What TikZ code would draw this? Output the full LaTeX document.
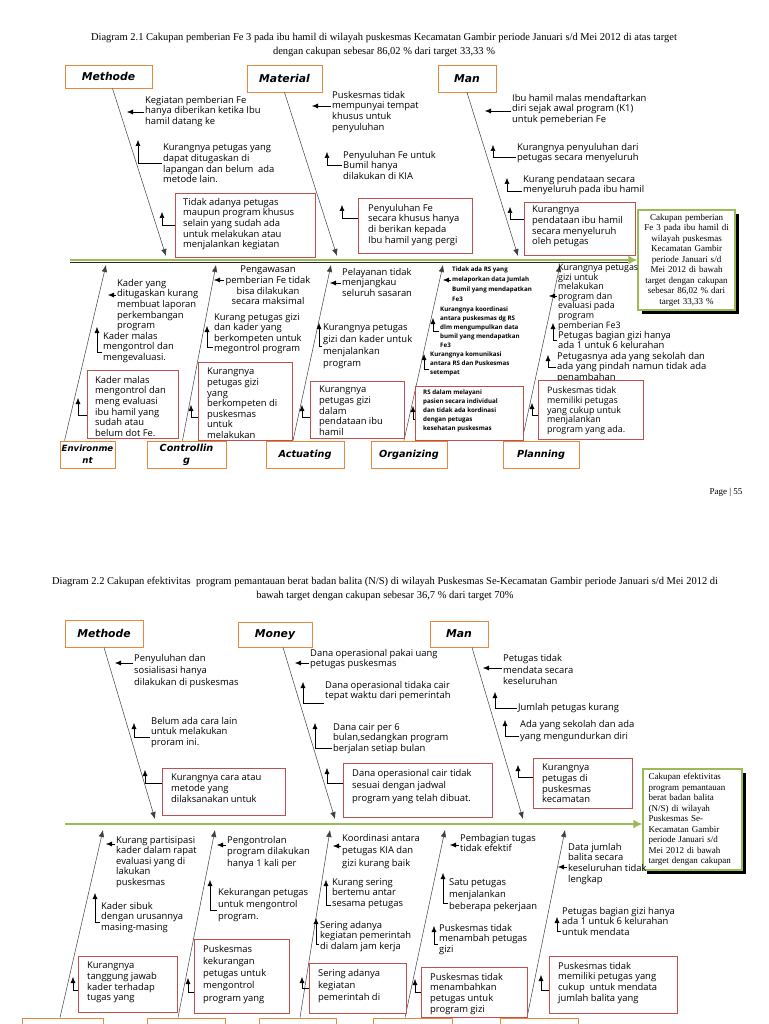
\documentclass[tikz,border=0pt]{standalone}
\usepackage{fontspec}
\setmainfont{Liberation Serif}
\newfontfamily\causefont{Open Sans}
\newfontfamily\catfont{DejaVu Sans}
\usetikzlibrary{arrows.meta,shadows}

\definecolor{catorange}{HTML}{E9873D}
\definecolor{causered}{HTML}{C0504D}
\definecolor{effgreen}{HTML}{9BBB59}

\tikzset{
  catbox/.style={draw=catorange, line width=0.9pt, fill=white, align=center, inner sep=1pt,
    font=\catfont\bfseries\itshape\fontsize{9.7}{12}\selectfont},
  cattop/.style={catbox, font=\catfont\bfseries\itshape\fontsize{10.8}{12}\selectfont},
  causebox/.style={draw=causered, line width=0.7pt, fill=white, anchor=north west, inner sep=0pt},
  ctext/.style={font=\causefont\fontsize{9.4}{10.6}\selectfont, align=left, anchor=north west, inner sep=1pt},
  ctight/.style={ctext, font=\causefont\fontsize{8.9}{9.6}\selectfont},
  csmall/.style={ctext, font=\causefont\bfseries\fontsize{6.2}{8.8}\selectfont},
  bone/.style={draw=black!75, line width=0.5pt, -{Latex[length=7pt,width=5.5pt]}},
  cause/.style={line width=0.5pt, -{Latex[length=6pt,width=5pt]}},
  spineg/.style={draw=effgreen, line width=2.6pt, -{Latex[length=9pt,width=9pt]}},
  effbox/.style={draw=effgreen, line width=1.3pt, fill=white, font=\fontsize{9}{10.5}\selectfont,
    drop shadow={shadow xshift=4pt, shadow yshift=-4pt, fill=black, opacity=1}},
  ttl/.style={font=\fontsize{10.5}{14}\selectfont, align=center},
}

\begin{document}
\begin{tikzpicture}[x=1pt,y=-1pt]
\useasboundingbox (0,0) rectangle (768,1024);
\clip (0,0) rectangle (768,1024);
\fill[white] (0,0) rectangle (768,1024);

\node[ttl] (title1) at (384,45) {Diagram 2.1 Cakupan pemberian Fe 3 pada ibu hamil di wilayah puskesmas Kecamatan Gambir periode Januari s/d Mei 2012 di atas target\\dengan cakupan sebesar 86,02 \% dari target 33,33 \%};
\node[font=\fontsize{9}{11}\selectfont, anchor=east] (page) at (746,492) {Page | 55};
\node[ttl] (title2) at (385,589) {Diagram 2.2 Cakupan efektivitas\ \ program pemantauan berat badan balita (N/S) di wilayah Puskesmas Se-Kecamatan Gambir periode Januari s/d Mei 2012 di\\bawah target dengan cakupan sebesar 36,7 \% dari target 70\%};

\node[effbox, minimum width=97pt, minimum height=100pt, text width=90pt, align=center] (eff1) at (686.5,260) {Cakupan pemberian\\Fe 3 pada ibu hamil di\\wilayah puskesmas\\Kecamatan Gambir\\periode Januari s/d\\Mei 2012 di bawah\\target dengan cakupan\\sebesar 86,02 \% dari\\target 33,33 \%};
\node[effbox, minimum width=99pt, minimum height=101pt, text width=88pt, align=left] (eff2) at (692.5,819.5) {Cakupan efektivitas\\program pemantauan\\berat badan balita\\(N/S) di wilayah\\Puskesmas Se-\\Kecamatan Gambir\\periode Januari s/d\\Mei 2012 di bawah\\target dengan cakupan};

\coordinate (sp1) at (70,260);
\coordinate (sp1e) at (sp1 -| eff1.west);
\draw[black!85, line width=1.4pt] ([yshift=-2.2pt]sp1) -- ([yshift=-2.2pt,xshift=-9pt]sp1e);
\draw[spineg] (sp1) -- (sp1e);
\coordinate (sp2) at (65,824);
\coordinate (sp2e) at (sp2 -| eff2.west);
\draw[spineg] (sp2) -- (sp2e);

\node[cattop, minimum width=87pt, minimum height=23pt] (mth) at (108.5,76.5) {Methode};
\node[cattop, minimum width=75pt, minimum height=27pt] (mat) at (284.5,78.5) {Material};
\node[cattop, minimum width=58pt, minimum height=27pt] (man) at (467,78.5) {Man};
\node[catbox, minimum width=55pt, minimum height=27pt, font=\catfont\bfseries\itshape\fontsize{8.6}{12}\selectfont] (env) at (87.5,454.5) {Environme\\nt};
\node[catbox, minimum width=79pt, minimum height=27pt] (ctl) at (186.5,454.5) {Controllin\\g};
\node[catbox, minimum width=78pt, minimum height=27pt] (act) at (305,454.5) {Actuating};
\node[catbox, minimum width=76pt, minimum height=27pt] (org) at (409,454.5) {Organizing};
\node[catbox, minimum width=76pt, minimum height=27pt] (pln) at (541,454.5) {Planning};

\coordinate (mthx) at (166,256);
\coordinate (matx) at (337,256);
\coordinate (manx) at (518,256);
\coordinate (envx) at (106,265);
\coordinate (ctlx) at (216,265);
\coordinate (actx) at (331,265);
\coordinate (orgx) at (443,265);
\coordinate (plnx) at (560,265);
\draw[bone] ([xshift=4pt]mth.south) -- (mthx);
\draw[bone] (mat.south) -- (matx);
\draw[bone] (man.south) -- (manx);
\draw[bone] ([xshift=5pt]env.north west) -- (envx);
\draw[bone] ([xshift=-4pt]ctl.north) -- (ctlx);
\draw[bone] ([xshift=-12pt]act.north) -- (actx);
\draw[bone] ([xshift=-5pt]org.north) -- (orgx);
\draw[bone] ([xshift=-19pt]pln.north) -- (plnx);

\coordinate (mt1x) at (127,112);
\coordinate (mt2x) at (138,140);
\coordinate (mt3x) at (162,212);
\node[ctext] (mt1) at (144,95) {Kegiatan pemberian Fe\\hanya diberikan ketika Ibu\\hamil datang ke};
\node[ctext] (mt2) at (162,143) {Kurangnya petugas yang\\dapat ditugaskan di\\lapangan dan belum\ \ ada\\metode lain.};
\node[causebox, minimum width=140pt, minimum height=64pt] (mt3) at (175,193) {};
\node[ctext] (mt3t) at ([shift={(7pt,-4pt)}]mt3.north west) {Tidak adanya petugas\\maupun program khusus\\selain yang sudah ada\\untuk melakukan atau\\menjalankan kegiatan};
\draw[cause] (mt1.west |- mt1x) -- (mt1x);
\draw[cause] (mt2.west) -| (mt2x);
\draw[cause] (mt3.west) -| (mt3x);

\coordinate (ma1x) at (312,106);
\coordinate (ma2x) at (327,152);
\coordinate (ma3x) at (342,205);
\node[ctext] (ma1) at (331,90) {Puskesmas tidak\\mempunyai tempat\\khusus untuk\\penyuluhan};
\node[ctext] (ma2) at (342,150) {Penyuluhan Fe untuk\\Bumil hanya\\dilakukan di KIA};
\node[causebox, minimum width=114pt, minimum height=55pt] (ma3) at (358,198) {};
\node[ctext] (ma3t) at ([shift={(9pt,-5pt)}]ma3.north west) {Penyuluhan Fe\\secara khusus hanya\\di berikan kepada\\Ibu hamil yang pergi};
\draw[cause] (ma1.west |- ma1x) -- (ma1x);
\draw[cause] (ma2.west) -| (ma2x);
\draw[cause] ([yshift=8pt]ma3.west) -| (ma3x);

\coordinate (mn1x) at (485,111);
\coordinate (mn2x) at (493,145);
\coordinate (mn3x) at (507,178);
\coordinate (mn4x) at (510,207);
\node[ctext] (mn1) at (511,93) {Ibu hamil malas mendaftarkan\\diri sejak awal program (K1)\\untuk pemeberian Fe};
\node[ctext] (mn2) at (516,142) {Kurangnya penyuluhan dari\\petugas secara menyeluruh};
\node[ctext] (mn3) at (522,174) {Kurang pendataan secara\\menyeluruh pada ibu hamil};
\node[causebox, minimum width=111pt, minimum height=53pt] (mn4) at (524,202) {};
\node[ctext] (mn4t) at ([shift={(7pt,-3pt)}]mn4.north west) {Kurangnya\\pendataan ibu hamil\\secara menyeluruh\\oleh petugas};
\draw[cause] (mn1.west |- mn1x) -- (mn1x);
\draw[cause] ([yshift=-4pt]mn2.west) -| (mn2x);
\draw[cause] ([yshift=-6pt]mn3.west) -| (mn3x);
\draw[cause] ([yshift=10pt]mn4.west) -| (mn4x);

\coordinate (en1x) at (108,295);
\coordinate (en2x) at (97,327);
\coordinate (en3x) at (78,398);
\node[ctext] (en1) at (116,278) {Kader yang\\ditugaskan kurang\\membuat laporan\\perkembangan\\program};
\node[ctext] (en2) at (102,331) {Kader malas\\mengontrol dan\\mengevaluasi.};
\node[causebox, minimum width=91pt, minimum height=68pt] (en3) at (87,370) {};
\node[ctext] (en3t) at ([shift={(7pt,-5pt)}]en3.north west) {Kader malas\\mengontrol dan\\meng evaluasi\\ibu hamil yang\\sudah atau\\belum dot Fe.};
\draw[cause] (en1.west |- en1x) -- (en1x);
\draw[cause] ([yshift=-5pt]en2.west) -| (en2x);
\draw[cause] ([yshift=-11pt]en3.west) -| (en3x);

\coordinate (ct1x) at (214,280);
\coordinate (ct2x) at (207,326);
\coordinate (ct3x) at (191,405);
\node[ctext, align=center, anchor=north] (ct1) at (268,265) {Pengawasan\\pemberian Fe tidak\\bisa dilakukan\\secara maksimal};
\node[ctext] (ct2) at (213,312) {Kurang petugas gizi\\dan kader yang\\berkompeten untuk\\megontrol program};
\node[causebox, minimum width=94pt, minimum height=78pt] (ct3) at (198,362) {};
\node[ctext] (ct3t) at ([shift={(8pt,-5pt)}]ct3.north west) {Kurangnya\\petugas gizi\\yang\\berkompeten di\\puskesmas\\untuk\\melakukan};
\draw[cause] (ct1.west |- ct1x) -- (ct1x);
\draw[cause] ([yshift=-14pt]ct2.west) -| (ct2x);
\draw[cause] ([yshift=-16pt]ct3.west) -| (ct3x);

\coordinate (ac1x) at (330,283);
\coordinate (ac2x) at (319,323);
\coordinate (ac3x) at (302,405);
\node[ctext] (ac1) at (341,267) {Pelayanan tidak\\menjangkau\\seluruh sasaran};
\node[ctext, font=\causefont\fontsize{9.4}{12}\selectfont] (ac2) at (322,323) {Kurangnya petugas\\gizi dan kader untuk\\menjalankan\\program};
\node[causebox, minimum width=94pt, minimum height=57pt] (ac3) at (310,381) {};
\node[ctext] (ac3t) at ([shift={(8pt,-4pt)}]ac3.north west) {Kurangnya\\petugas gizi\\dalam\\pendataan ibu\\hamil};
\draw[cause] (ac1.west |- ac1x) -- (ac1x);
\draw[cause] (ac2.west) -| (ac2x);
\draw[cause] ([yshift=-7pt]ac3.west) -| (ac3x);

\coordinate (or1x) at (443,280);
\coordinate (or2x) at (433,318);
\coordinate (or3x) at (424,354);
\coordinate (or4x) at (413,406);
\node[csmall, font=\causefont\bfseries\fontsize{6.2}{10}\selectfont] (or1) at (451,266) {Tidak ada RS yang\\melaporkan data Jumlah\\Bumil yang mendapatkan\\Fe3};
\node[csmall] (or2) at (439,306) {Kurangnya koordinasi\\antara puskesmas dg RS\\dlm mengumpulkan data\\bumil yang mendapatkan\\Fe3};
\node[csmall] (or3) at (429,351) {Kurangnya komunikasi\\antara RS dan Puskesmas\\setempat};
\node[causebox, minimum width=108pt, minimum height=54pt] (or4) at (415,386) {};
\node[csmall] (or4t) at ([shift={(7pt,-3pt)}]or4.north west) {RS dalam melayani\\pasien secara individual\\dan tidak ada kordinasi\\dengan petugas\\kesehatan puskesmas};
\draw[cause] (or1.west |- or1x) -- (or1x);
\draw[cause] ([yshift=-4pt]or2.west) -| (or2x);
\draw[cause] ([yshift=-5pt]or3.west) -| (or3x);
\draw[cause] ([yshift=-6pt]or4.west) -| (or4x);

\coordinate (pl1x) at (549,296);
\coordinate (pl2x) at (553,323);
\coordinate (pl3x) at (548,355);
\coordinate (pl4x) at (532,403);
\node[ctight] (pl1) at (557,263) {Kurangnya petugas\\gizi untuk\\melakukan\\program dan\\evaluasi pada\\program\\pemberian Fe3};
\node[ctext] (pl2) at (557,330) {Petugas bagian gizi hanya\\ada 1 untuk 6 kelurahan};
\node[ctext] (pl3) at (556,351) {Petugasnya ada yang sekolah dan\\ada yang pindah namun tidak ada\\penambahan};
\node[causebox, minimum width=105pt, minimum height=59pt] (pl4) at (538,380) {};
\node[ctight] (pl4t) at ([shift={(8pt,-6pt)}]pl4.north west) {Puskesmas tidak\\memiliki petugas\\yang cukup untuk\\menjalankan\\program yang ada.};
\draw[cause] (pl1.west |- pl1x) -- (pl1x);
\draw[cause] (pl2.west) -| (pl2x);
\draw[cause] (pl3.west) -| (pl3x);
\draw[cause] ([yshift=-5pt]pl4.west) -| (pl4x);

\node[cattop, minimum width=78pt, minimum height=27pt] (mthb) at (104,633.5) {Methode};
\node[cattop, minimum width=74pt, minimum height=25pt] (mny) at (275,634.5) {Money};
\node[cattop, minimum width=58pt, minimum height=26pt] (manb) at (459,634) {Man};
\node[catbox, minimum width=81pt, minimum height=27pt] (envb) at (62.5,1031.5) {};
\node[catbox, minimum width=78pt, minimum height=27pt] (ctlb) at (186,1031.5) {};
\node[catbox, minimum width=77pt, minimum height=27pt] (actb) at (297.5,1031.5) {};
\node[catbox, minimum width=79pt, minimum height=27pt] (orgb) at (412.5,1031.5) {};
\node[catbox, minimum width=78pt, minimum height=27pt] (plnb) at (539,1031.5) {};

\coordinate (mthbx) at (155,819);
\coordinate (mnyx) at (335,819);
\coordinate (manbx) at (523,819);
\coordinate (envbx) at (103,830);
\coordinate (ctlbx) at (215,830);
\coordinate (actbx) at (330,830);
\coordinate (orgbx) at (445,830);
\coordinate (plnbx) at (565,830);
\draw[bone] (mthb.south) -- (mthbx);
\draw[bone] ([xshift=8pt]mny.south) -- (mnyx);
\draw[bone] ([xshift=13pt]manb.south) -- (manbx);
\draw[bone] ([xshift=-2.5pt]envb.north) -- (envbx);
\draw[bone] ([xshift=-8pt]ctlb.north) -- (ctlbx);
\draw[bone] ([xshift=2.5pt]actb.north) -- (actbx);
\draw[bone] ([xshift=-7.5pt]orgb.north) -- (orgbx);
\draw[bone] ([xshift=-12pt]plnb.north) -- (plnbx);

\coordinate (mtb1x) at (115,663);
\coordinate (mtb2x) at (134,723);
\coordinate (mtb3x) at (145,770);
\node[ctext, font=\causefont\fontsize{9.4}{12}\selectfont] (mtb1) at (133,653) {Penyuluhan dan\\sosialisasi hanya\\dilakukan di puskesmas};
\node[ctext] (mtb2) at (150,716) {Belum ada cara lain\\untuk melakukan\\proram ini.};
\node[causebox, minimum width=123pt, minimum height=47pt] (mtb3) at (162,768) {};
\node[ctext] (mtb3t) at ([shift={(8pt,-5pt)}]mtb3.north west) {Kurangnya cara atau\\metode yang\\dilaksanakan untuk};
\draw[cause] (mtb1.west |- mtb1x) -- (mtb1x);
\draw[cause] ([yshift=-5pt]mtb2.west) -| (mtb2x);
\draw[cause] ([yshift=9pt]mtb3.west) -| (mtb3x);

\coordinate (mnb1x) at (295,663);
\coordinate (mnb2x) at (303,682);
\coordinate (mnb3x) at (315,723);
\coordinate (mnb4x) at (327,768);
\node[ctext] (mnb1) at (309,648) {Dana operasional pakai uang\\petugas puskesmas};
\node[ctext] (mnb2) at (324,680) {Dana operasional tidaka cair\\tepat waktu dari pemerintah};
\node[ctext] (mnb3) at (332,722) {Dana cair per 6\\bulan,sedangkan program\\berjalan setiap bulan};
\node[causebox, minimum width=149pt, minimum height=54pt] (mnb4) at (343,763) {};
\node[ctext, font=\causefont\fontsize{9.4}{12.5}\selectfont] (mnb4t) at ([shift={(8pt,-5pt)}]mnb4.north west) {Dana operasional cair tidak\\sesuai dengan jadwal\\program yang telah dibuat.};
\draw[cause] (mnb1.west |- mnb1x) -- (mnb1x);
\draw[cause] ([yshift=-12pt]mnb2.west) -| (mnb2x);
\draw[cause] ([yshift=-10pt]mnb3.west) -| (mnb3x);
\draw[cause] ([yshift=7pt]mnb4.west) -| (mnb4x);

\coordinate (mab1x) at (483,668);
\coordinate (mab2x) at (495,692);
\coordinate (mab3x) at (505,720);
\coordinate (mab4x) at (518,765);
\node[ctext, font=\causefont\fontsize{9.4}{11.8}\selectfont] (mab1) at (502,653) {Petugas tidak\\mendata secara\\keseluruhan};
\node[ctext] (mab2) at (517,702) {Jumlah petugas kurang};
\node[ctext, font=\causefont\fontsize{9.4}{12.5}\selectfont] (mab3) at (519,719) {Ada yang sekolah dan ada\\yang mengundurkan diri};
\node[causebox, minimum width=99pt, minimum height=50pt] (mab4) at (533,758) {};
\node[ctext] (mab4t) at ([shift={(8pt,-5pt)}]mab4.north west) {Kurangnya\\petugas di\\puskesmas\\kecamatan};
\draw[cause] (mab1.west |- mab1x) -- (mab1x);
\draw[cause] (mab2.west) -| (mab2x);
\draw[cause] ([yshift=-5pt]mab3.west) -| (mab3x);
\draw[cause] ([yshift=6pt]mab4.west) -| (mab4x);

\coordinate (enb1x) at (106,844);
\coordinate (enb2x) at (95,893);
\coordinate (enb3x) at (73,977);
\node[ctext] (enb1) at (115,835) {Kurang partisipasi\\kader dalam rapat\\evaluasi yang di\\lakukan\\puskesmas};
\node[ctext] (enb2) at (100,901) {Kader sibuk\\dengan urusannya\\masing-masing};
\node[causebox, minimum width=99pt, minimum height=56pt] (enb3) at (78,956) {};
\node[ctext] (enb3t) at ([shift={(8pt,-5pt)}]enb3.north west) {Kurangnya\\tanggung jawab\\kader terhadap\\tugas yang};
\draw[cause] (enb1.west |- enb1x) -- (enb1x);
\draw[cause] ([yshift=-5pt]enb2.west) -| (enb2x);
\draw[cause] ([yshift=-6pt]enb3.west) -| (enb3x);

\coordinate (ctb1x) at (217,845);
\coordinate (ctb2x) at (210,880);
\coordinate (ctb3x) at (188,978);
\node[ctext, font=\causefont\fontsize{9.4}{11.5}\selectfont] (ctb1) at (226,835) {Pengontrolan\\program dilakukan\\hanya 1 kali per};
\node[ctext, font=\causefont\fontsize{9.4}{12}\selectfont] (ctb2) at (217,887) {Kekurangan petugas\\untuk mengontrol\\program.};
\node[causebox, minimum width=95pt, minimum height=74pt] (ctb3) at (194,939) {};
\node[ctext, font=\causefont\fontsize{9.4}{12.2}\selectfont] (ctb3t) at ([shift={(8pt,-5pt)}]ctb3.north west) {Puskesmas\\kekurangan\\petugas untuk\\mengontrol\\program yang};
\draw[cause] (ctb1.west |- ctb1x) -- (ctb1x);
\draw[cause] ([yshift=-5pt]ctb2.west) -| (ctb2x);
\draw[cause] ([yshift=-16pt]ctb3.west) -| (ctb3x);

\coordinate (acb1x) at (333,846);
\coordinate (acb2x) at (326,880);
\coordinate (acb3x) at (316,918);
\coordinate (acb4x) at (302,977);
\node[ctext, font=\causefont\fontsize{9.4}{12.5}\selectfont] (acb1) at (341,833) {Koordinasi antara\\petugas KIA dan\\gizi kurang baik};
\node[ctext] (acb2) at (331,877) {Kurang sering\\bertemu antar\\sesama petugas};
\node[ctext] (acb3) at (319,920) {Sering adanya\\kegiatan pemerintah\\di dalam jam kerja};
\node[causebox, minimum width=97pt, minimum height=50pt] (acb4) at (309,963) {};
\node[ctext, font=\causefont\fontsize{9.4}{12}\selectfont] (acb4t) at ([shift={(8pt,-5pt)}]acb4.north west) {Sering adanya\\kegiatan\\pemerintah di};
\draw[cause] (acb1.west |- acb1x) -- (acb1x);
\draw[cause] ([yshift=-12pt]acb2.west) -| (acb2x);
\draw[cause] ([yshift=-8pt]acb3.west) -| (acb3x);
\draw[cause] (acb4.west) -| (acb4x);

\coordinate (orb1x) at (450,845);
\coordinate (orb2x) at (443,873);
\coordinate (orb3x) at (434,926);
\coordinate (orb4x) at (415,979);
\node[ctext] (orb1) at (459,833) {Pembagian tugas\\tidak efektif};
\node[ctext, font=\causefont\fontsize{9.4}{12}\selectfont] (orb2) at (448,877) {Satu petugas\\menjalankan\\beberapa pekerjaan};
\node[ctext] (orb3) at (438,923) {Puskesmas tidak\\menambah petugas\\gizi};
\node[causebox, minimum width=106pt, minimum height=50pt] (orb4) at (421,967) {};
\node[ctext] (orb4t) at ([shift={(8pt,-5pt)}]orb4.north west) {Puskesmas tidak\\menambahkan\\petugas untuk\\program gizi};
\draw[cause] (orb1.west |- orb1x) -- (orb1x);
\draw[cause] ([yshift=-9pt]orb2.west) -| (orb2x);
\draw[cause] ([yshift=-5pt]orb3.west) -| (orb3x);
\draw[cause] (orb4.west) -| (orb4x);

\coordinate (plb1x) at (558,867);
\coordinate (plb2x) at (557,917);
\coordinate (plb3x) at (541,975);
\node[ctext] (plb1) at (567,842) {Data jumlah\\balita secara\\keseluruhan tidak\\lengkap};
\node[ctext] (plb2) at (561,906) {Petugas bagian gizi hanya\\ada 1 untuk 6 kelurahan\\untuk mendata};
\node[causebox, minimum width=128pt, minimum height=57pt] (plb3) at (549,956) {};
\node[ctext] (plb3t) at ([shift={(8pt,-5pt)}]plb3.north west) {Puskesmas tidak\\memiliki petugas yang\\cukup\ \ untuk mendata\\jumlah balita yang};
\draw[cause] (plb1.west |- plb1x) -- (plb1x);
\draw[cause] ([yshift=-10pt]plb2.west) -| (plb2x);
\draw[cause] ([yshift=-5pt]plb3.west) -| (plb3x);
\end{tikzpicture}
\end{document}
